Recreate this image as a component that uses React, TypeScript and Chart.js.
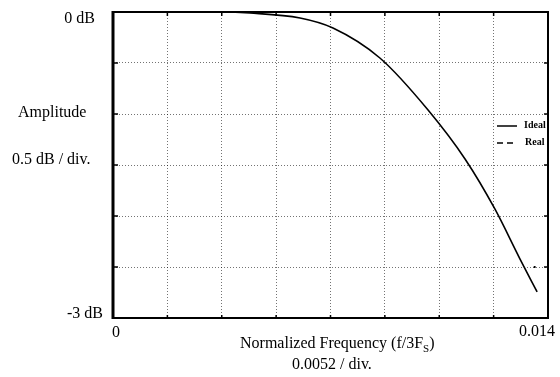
import React, { useEffect, useRef } from "react";
import { Chart, registerables } from "chart.js";
Chart.register(...registerables);

// Normalized frequency (f/3Fs) and amplitude (dB)
const freq = [0, 0.0035, 0.00441, 0.00602, 0.00708, 0.00859, 0.01014, 0.01133, 0.01229, 0.0131, 0.01365];
const idealDb = [0, 0, -0.01, -0.059, -0.157, -0.451, -0.961, -1.441, -1.931, -2.422, -2.745];
const realFreq = [0.01354, 0.0136];
const realDb = [-2.5, -2.5];

const xTickLabels = ["0", "0.014"];
const yTickLabels = ["0 dB", "-3 dB"];
const legendLabels = ["Ideal", "Real"];
const yTitle = ["Amplitude", "0.5 dB / div."];
const xTitle = ["Normalized Frequency (f/3F", "S", ")"];
const xSubTitle = "0.0052 / div.";

const X_MIN = 0;
const X_MAX = 0.014;
const X_DIVS = 8;
const Y_MIN = -3;
const Y_MAX = 0;
const Y_DIVS = 6;

const SERIF = '"Liberation Serif", "Times New Roman", serif';

const overlay = {
  id: "overlay",
  afterDraw(chart: any) {
    const { ctx, chartArea } = chart;
    const { left, right, top, bottom } = chartArea;
    const xs = chart.scales.x;
    const ys = chart.scales.y;
    ctx.save();
    ctx.strokeStyle = "#000";
    ctx.fillStyle = "#000";
    // frame
    ctx.lineWidth = 2;
    ctx.beginPath();
    ctx.moveTo(left, top);
    ctx.lineTo(right, top);
    ctx.lineTo(right, bottom);
    ctx.lineTo(left, bottom);
    ctx.stroke();
    ctx.lineWidth = 3;
    ctx.beginPath();
    ctx.moveTo(left, top - 1);
    ctx.lineTo(left, bottom + 1);
    ctx.stroke();
    // inward ticks
    ctx.lineWidth = 1.5;
    for (let i = 1; i < Y_DIVS; i++) {
      const y = ys.getPixelForValue(Y_MIN + (i * (Y_MAX - Y_MIN)) / Y_DIVS);
      ctx.beginPath();
      ctx.moveTo(left, y);
      ctx.lineTo(left + 5, y);
      ctx.moveTo(right, y);
      ctx.lineTo(right - 4, y);
      ctx.stroke();
    }
    for (let i = 1; i < X_DIVS; i++) {
      const x = xs.getPixelForValue(X_MIN + (i * (X_MAX - X_MIN)) / X_DIVS);
      ctx.beginPath();
      ctx.moveTo(x, top);
      ctx.lineTo(x, top + 4);
      ctx.moveTo(x, bottom);
      ctx.lineTo(x, bottom - 3);
      ctx.stroke();
    }
    // y tick labels
    ctx.textBaseline = "alphabetic";
    ctx.font = `16px ${SERIF}`;
    ctx.textAlign = "right";
    ctx.fillText(yTickLabels[0], left - 18, ys.getPixelForValue(Y_MAX) + 11);
    ctx.fillText(yTickLabels[1], left - 10, ys.getPixelForValue(Y_MIN));
    // y title
    ctx.textAlign = "left";
    ctx.fillText(yTitle[0], 18, 117);
    ctx.fillText(yTitle[1], 12, 164);
    // x tick labels
    ctx.textAlign = "center";
    ctx.fillText(xTickLabels[0], xs.getPixelForValue(X_MIN) + 3, bottom + 19);
    ctx.fillText(xTickLabels[1], xs.getPixelForValue(X_MAX) - 11, bottom + 18);
    // x title
    ctx.textAlign = "left";
    ctx.font = `16px ${SERIF}`;
    let x0 = 240;
    const yb = 348;
    ctx.fillText(xTitle[0], x0, yb);
    x0 += ctx.measureText(xTitle[0]).width;
    ctx.font = `11px ${SERIF}`;
    ctx.fillText(xTitle[1], x0, yb + 4);
    x0 += ctx.measureText(xTitle[1]).width;
    ctx.font = `16px ${SERIF}`;
    ctx.fillText(xTitle[2], x0, yb);
    ctx.fillText(xSubTitle, 292, 369);
    // legend
    ctx.lineWidth = 1.5;
    ctx.beginPath();
    ctx.moveTo(497, 126);
    ctx.lineTo(517, 126);
    ctx.stroke();
    ctx.setLineDash([6, 4]);
    ctx.beginPath();
    ctx.moveTo(497, 143);
    ctx.lineTo(517, 143);
    ctx.stroke();
    ctx.setLineDash([]);
    ctx.font = `bold 10px ${SERIF}`;
    ctx.textBaseline = "middle";
    ctx.fillText(legendLabels[0], 524, 125);
    ctx.fillText(legendLabels[1], 525, 142);
    ctx.restore();
  },
};

export default function App() {
  const ref = useRef<HTMLCanvasElement | null>(null);
  useEffect(() => {
    if (!ref.current) return;
    const chart = new Chart(ref.current, {
      type: "line",
      data: {
        datasets: [
          {
            label: legendLabels[0],
            data: freq.map((f, i) => ({ x: f, y: idealDb[i] })),
            borderColor: "#000",
            borderWidth: 1.6,
            pointRadius: 0,
            cubicInterpolationMode: "monotone",
            fill: false,
          },
          {
            label: legendLabels[1],
            data: realFreq.map((f, i) => ({ x: f, y: realDb[i] })),
            borderColor: "#000",
            borderWidth: 2,
            pointRadius: 0,
            fill: false,
          },
        ],
      },
      options: {
        responsive: false,
        animation: false,
        layout: { padding: { top: 12, right: 12, left: 0, bottom: 0 } },
        plugins: { legend: { display: false }, tooltip: { enabled: false }, title: { display: false } },
        scales: {
          x: {
            type: "linear",
            min: X_MIN,
            max: X_MAX,
            afterBuildTicks: (s: any) => {
              s.ticks = Array.from({ length: X_DIVS + 1 }, (_, i) => ({ value: X_MIN + (i * (X_MAX - X_MIN)) / X_DIVS }));
            },
            afterFit: (s: any) => {
              s.height = 59;
            },
            ticks: { display: false },
            grid: { color: "rgba(0,0,0,0.55)", lineWidth: 1, drawTicks: false },
            border: { display: false, dash: [1, 2] },
          },
          y: {
            type: "linear",
            min: Y_MIN,
            max: Y_MAX,
            afterBuildTicks: (s: any) => {
              s.ticks = Array.from({ length: Y_DIVS + 1 }, (_, i) => ({ value: Y_MIN + (i * (Y_MAX - Y_MIN)) / Y_DIVS }));
            },
            afterFit: (s: any) => {
              s.width = 113;
            },
            ticks: { display: false },
            grid: { color: "rgba(0,0,0,0.55)", lineWidth: 1, drawTicks: false },
            border: { display: false, dash: [1, 2] },
          },
        },
      },
      plugins: [overlay],
    } as any);
    return () => chart.destroy();
  }, []);
  return (
    <div style={{ position: "fixed", left: 0, top: 0, width: 560, height: 377, background: "#fff" }}>
      <canvas ref={ref} width={560} height={377} style={{ display: "block" }} />
    </div>
  );
}
